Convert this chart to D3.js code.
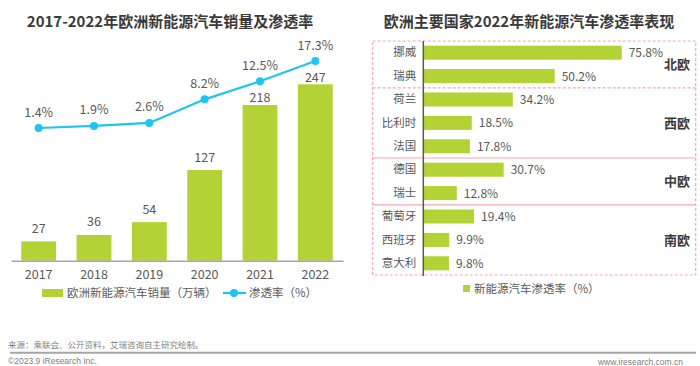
<!DOCTYPE html>
<html><head><meta charset="utf-8">
<script src="https://cdn.jsdelivr.net/npm/d3@7"></script>
<style>
html,body{margin:0;padding:0;background:#fff;}
svg{display:block;font-family:"Microsoft YaHei","Noto Sans CJK SC","Noto Sans",sans-serif;}
</style></head>
<body>
<svg id="c" width="700" height="366"></svg>
<script>
// ---- data ----
const years = ["2017","2018","2019","2020","2021","2022"];
const sales = [27,36,54,127,218,247];
const penetration = [1.4,1.9,2.6,8.2,12.5,17.3];
const leftTitle = "2017-2022年欧洲新能源汽车销量及渗透率";
const legendSales = "欧洲新能源汽车销量（万辆）";
const legendPen = "渗透率（%）";

const countries = ["挪威","瑞典","荷兰","比利时","法国","德国","瑞士","葡萄牙","西班牙","意大利"];
const countryRates = [75.8,50.2,34.2,18.5,17.8,30.7,12.8,19.4,9.9,9.8];
const regions = ["北欧","西欧","中欧","南欧"];
const regionMembers = [["挪威","瑞典"],["荷兰","比利时","法国"],["德国","瑞士"],["葡萄牙","西班牙","意大利"]];
const rightTitle = "欧洲主要国家2022年新能源汽车渗透率表现";
const legendRate = "新能源汽车渗透率（%）";
const source = "来源：乘联会、公开资料，艾瑞咨询自主研究绘制。";
const copyright = "©2023.9 iResearch Inc.";
const website = "www.iresearch.com.cn";

const GREEN = "#b2d235", CYAN = "#1fc4f0", TXT = "#595959", PINK = "#f5a7b1";
const svg = d3.select("#c");

// ---- left chart ----
svg.append("text").attr("x",170).attr("y",27).attr("text-anchor","middle")
  .attr("font-size",15).attr("font-weight","bold").attr("fill","#3a3a3a").text(leftTitle);

const x = d3.scaleBand().domain(years).range([11,343]).paddingInner(0.37).paddingOuter(0.185);
const yBar = d3.scaleLinear().domain([0,247]).range([260.7,84.3]);
const yLine = d3.scaleLinear().domain([0,17.3]).range([133.9,61]);

const L = svg.append("g");
L.selectAll("rect.bar").data(sales).join("rect").attr("class","bar")
  .attr("x",(d,i)=>x(years[i])).attr("width",x.bandwidth())
  .attr("y",d=>yBar(d)).attr("height",d=>yBar(0)-yBar(d)).attr("fill",GREEN);
// bar value label: above the bar, but kept below the line point to avoid overlap
L.selectAll("text.bv").data(sales).join("text").attr("class","bv")
  .attr("x",(d,i)=>x(years[i])+x.bandwidth()/2)
  .attr("y",(d,i)=>Math.max(yBar(d)-13, yLine(penetration[i])+16)+4.5)
  .attr("text-anchor","middle").attr("font-size",12.5).attr("fill",TXT).text(d=>d);

const xAxis = L.append("g").attr("transform",`translate(0,${yBar(0)})`)
  .call(d3.axisBottom(x).tickSize(0).tickPadding(9));
xAxis.select(".domain").attr("stroke","#a6a6a6").attr("stroke-width",1.5);
xAxis.selectAll("text").attr("font-size",12.5).attr("fill",TXT)
  .attr("font-family",'"Microsoft YaHei","Noto Sans CJK SC",sans-serif');

const line = d3.line().x((d,i)=>x(years[i])+x.bandwidth()/2).y(d=>yLine(d));
L.append("path").datum(penetration).attr("d",line).attr("fill","none")
  .attr("stroke",CYAN).attr("stroke-width",2.2);
L.selectAll("circle.pt").data(penetration).join("circle").attr("class","pt")
  .attr("cx",(d,i)=>x(years[i])+x.bandwidth()/2).attr("cy",d=>yLine(d)).attr("r",4).attr("fill",CYAN);
L.selectAll("text.pv").data(penetration).join("text").attr("class","pv")
  .attr("x",(d,i)=>x(years[i])+x.bandwidth()/2).attr("y",d=>yLine(d)-11.5)
  .attr("text-anchor","middle").attr("font-size",12.5).attr("fill",TXT).text(d=>d.toFixed(1)+"%");

// left legend
L.append("rect").attr("x",42).attr("y",289).attr("width",21).attr("height",8).attr("fill",GREEN);
L.append("text").attr("x",67).attr("y",297).attr("font-size",11.5).attr("fill",TXT).text(legendSales);
L.append("line").attr("x1",223).attr("x2",246).attr("y1",293).attr("y2",293).attr("stroke",CYAN).attr("stroke-width",2.2);
L.append("circle").attr("cx",234).attr("cy",293).attr("r",4).attr("fill",CYAN);
L.append("text").attr("x",249).attr("y",297).attr("font-size",11.5).attr("fill",TXT).text(legendPen);

// ---- right chart ----
svg.append("text").attr("x",529).attr("y",27).attr("text-anchor","middle")
  .attr("font-size",15).attr("font-weight","bold").attr("fill","#3a3a3a").text(rightTitle);

const xr = d3.scaleLinear().domain([0,75.8]).range([423.3,621.7]);
const yr = d3.scaleBand().domain(countries).range([41,275]).paddingInner(0.4).paddingOuter(0.2);
const R = svg.append("g");
const step = yr.step();

// group boxes
const boxL = 372.7, boxR = 695.7;
const bounds = regionMembers.map(m=>{
  const top = yr(m[0]) - step*0.2;
  const bot = yr(m[m.length-1]) + yr.bandwidth() + step*0.2;
  return [top,bot];
});
R.append("rect").attr("x",boxL).attr("y",bounds[0][0]).attr("width",boxR-boxL)
  .attr("height",bounds[3][1]-bounds[0][0]).attr("fill","none")
  .attr("stroke",PINK).attr("stroke-width",1.2).attr("stroke-dasharray","3,2");
bounds.slice(1).forEach((b,i)=>{
  R.append("line").attr("x1",boxL).attr("x2",boxR).attr("y1",b[0]).attr("y2",b[0])
    .attr("stroke",PINK).attr("stroke-width",1.2).attr("stroke-dasharray",i===0?"3,2":null);
});
R.selectAll("text.rg").data(regions).join("text").attr("class","rg")
  .attr("x",677).attr("y",(d,i)=>(bounds[i][0]+bounds[i][1])/2+5)
  .attr("text-anchor","middle").attr("font-size",13).attr("font-weight","bold").attr("fill","#3a3a3a").text(d=>d);

R.selectAll("rect.cb").data(countryRates).join("rect").attr("class","cb")
  .attr("x",xr(0)).attr("y",(d,i)=>yr(countries[i])).attr("height",yr.bandwidth())
  .attr("width",d=>xr(d)-xr(0)).attr("fill",GREEN);
R.selectAll("text.cv").data(countryRates).join("text").attr("class","cv")
  .attr("x",d=>xr(d)+7).attr("y",(d,i)=>yr(countries[i])+yr.bandwidth()/2+4.5)
  .attr("font-size",12).attr("fill",TXT).text(d=>d.toFixed(1)+"%");

const yAxis = R.append("g").attr("transform",`translate(${xr(0)},0)`)
  .call(d3.axisLeft(yr).tickSize(0).tickPadding(7));
yAxis.select(".domain").attr("stroke","#595959").attr("stroke-width",1.5)
  .attr("d",`M0,${41}V${276}`);
yAxis.selectAll("text").attr("font-size",11.5).attr("fill",TXT)
  .attr("font-family",'"Microsoft YaHei","Noto Sans CJK SC",sans-serif');

// right legend
R.append("rect").attr("x",463).attr("y",285).attr("width",7).attr("height",7).attr("fill",GREEN);
R.append("text").attr("x",474).attr("y",293).attr("font-size",11.5).attr("fill",TXT).text(legendRate);

// ---- footer ----
svg.append("text").attr("x",8).attr("y",348).attr("font-size",8.5).attr("fill","#7f7f7f").text(source);
svg.append("line").attr("x1",10).attr("x2",696).attr("y1",352.7).attr("y2",352.7).attr("stroke","#a6a6a6").attr("stroke-width",2);
svg.append("text").attr("x",8).attr("y",364).attr("font-size",8.5).attr("fill","#7f7f7f")
  .attr("font-family","Arial,'Liberation Sans',sans-serif").text(copyright);
svg.append("text").attr("x",683).attr("y",365).attr("text-anchor","end").attr("font-size",8.5).attr("fill","#7f7f7f")
  .attr("font-family","Arial,'Liberation Sans',sans-serif").text(website);
</script>
</body></html>
